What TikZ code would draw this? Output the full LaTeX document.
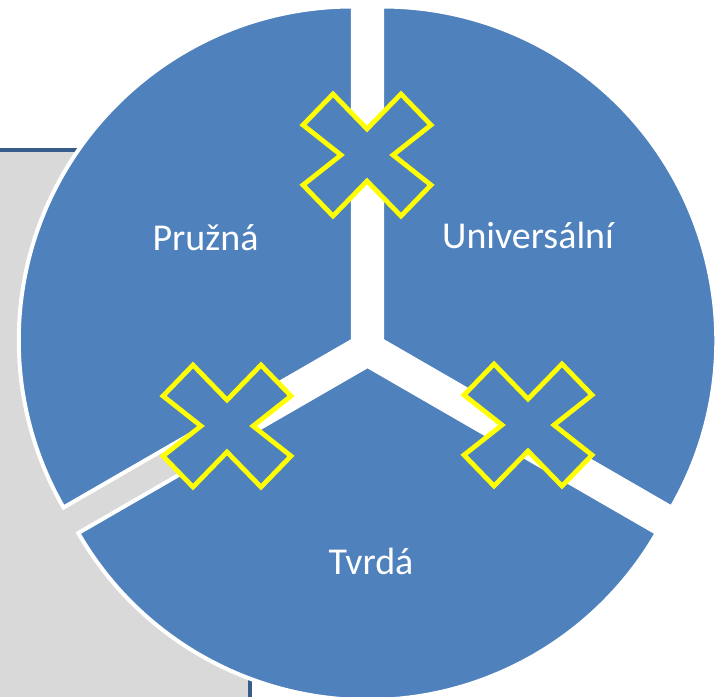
\documentclass[tikz,border=0pt]{standalone}
\usepackage{fontspec}
\setmainfont{Carlito}
\usetikzlibrary{calc}

\definecolor{secblue}{RGB}{79,129,189}   % 扇形填充蓝
\definecolor{greyfill}{RGB}{217,217,217} % 背后灰色矩形
\definecolor{edgeblue}{RGB}{56,93,138}   % 灰色矩形的深蓝边
\definecolor{crossyellow}{RGB}{255,255,0}% 叉号描边黄

\begin{document}
\begin{tikzpicture}[x=0.2mm, y=0.2mm,
  sector/.style={fill=secblue, draw=white, line width=0.8mm, line join=miter},    % 三块分离的扇形
  crossmark/.style={fill=secblue, draw=crossyellow, line width=0.95mm, line join=miter}, % 黄色叉号
  seclabel/.style={text=white, font=\fontsize{21.6}{26}\selectfont, anchor=base}] % 扇形内文字

  \useasboundingbox (0,0) rectangle (717,-696); % 画布范围，y 向下取负

  % ======= 背后的灰色矩形 =======
  \fill[greyfill] (-10,-150) rectangle (250,-710); % 只露出左下一角
  \draw[edgeblue, line width=0.9mm] (-10,-150) -- (250,-150) -- (250,-710); % 上边和右边的深蓝边线

  % ======= 三块扇形 (半径 334，沿角平分线外移 17) =======
  \coordinate (O) at (367.5,-349); % 整个饼图的圆心
  \draw[sector] ($(O)+(150:17)$) -- ++(90:334) arc[start angle=90, end angle=210, radius=334] -- cycle;   % 左上块
  \draw[sector] ($(O)+(30:17)$) -- ++(-30:334) arc[start angle=-30, end angle=90, radius=334] -- cycle;  % 右上块
  \draw[sector] ($(O)+(270:17)$) -- ++(210:334) arc[start angle=210, end angle=330, radius=334] -- cycle; % 下方块

  % ======= 三个叉号，压在扇形之间的缝上 =======
  \foreach \cx/\cy in {367/-155, 227/-426, 528/-425}{
    \draw[crossmark, shift={(\cx,\cy)}]
      (-34,61) -- (0,26) -- (34,61) -- (64,30) -- (26,0) -- (64,-30)
      -- (34,-61) -- (0,-26) -- (-34,-61) -- (-64,-30) -- (-26,0) -- (-64,30) -- cycle;
  }

  % ======= 文字 =======
  \node[seclabel] (pruzna) at (205.5,-250) {Pružná};
  \node[seclabel] (univer) at (528,-248) {Universální};
  \node[seclabel] (tvrda) at (371,-574) {Tvrdá};

\end{tikzpicture}
\end{document}
